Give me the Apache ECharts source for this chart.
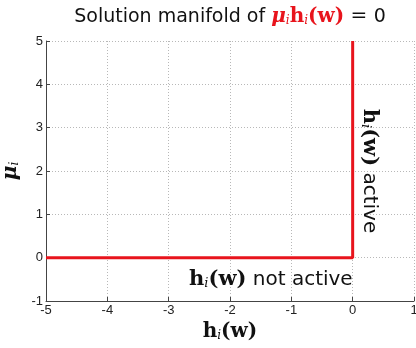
<!DOCTYPE html>
<html><head><meta charset="utf-8">
<script src="https://cdn.jsdelivr.net/npm/echarts@6/dist/echarts.min.js"></script>
<style>html,body{margin:0;padding:0;background:#fff}#c{width:416px;height:348px}</style>
</head><body><div id="c"></div>
<script>
const xTicks = [-5, -4, -3, -2, -1, 0, 1];
const yTicks = [-1, 0, 1, 2, 3, 4, 5];
const manifoldX = [-5, 0, 0];
const manifoldY = [0, 0, 5];
const activeLabelAt = [0, 2.0];
const notActiveLabelAt = [0, -0.5];

const RED = '#e8141c';
const serif = '"DejaVu Serif", "Liberation Serif", serif';
const sans = '"DejaVu Sans", sans-serif';
const mathRich = (col, size) => ({
  mu: {fontFamily: serif, fontWeight: 'bold', fontStyle: 'italic', fontSize: size, color: col, fill: col},
  b: {fontFamily: serif, fontWeight: 'bold', fontSize: size, color: col, fill: col},
  sub: {fontFamily: serif, fontStyle: 'italic', fontSize: Math.round(size*0.62), color: col, fill: col, verticalAlign: 'bottom'},
  t: {fontFamily: sans, fontSize: size-1, color: '#111', fill: '#111'},
  eq: {fontFamily: serif, fontSize: size, color: '#111', fill: '#111'}
});

const chart = echarts.init(document.getElementById('c'));
const axisCommon = {
  type: 'value', interval: 1,
  axisLine: {show: true, onZero: false, lineStyle: {color: '#444', width: 1}},
  axisTick: {show: true, inside: true, length: 4, lineStyle: {color: '#444'}},
  splitLine: {show: true, lineStyle: {color: '#b8b8b8', type: [1, 2], width: 1}},
  axisLabel: {fontFamily: '"Liberation Sans", Arial, sans-serif', fontSize: 13, color: '#222'}
};
chart.setOption({
  animation: false,
  grid: {left: 46, right: 2, top: 41, bottom: 47, containLabel: false, outerBoundsMode: 'none'},
  xAxis: Object.assign({}, axisCommon, {
    min: xTicks[0], max: xTicks[xTicks.length-1],
    axisLabel: Object.assign({}, axisCommon.axisLabel, {margin: 3}),
    name: '{b|h}{sub|i}{b|(w)}', nameLocation: 'middle', nameGap: 19,
    nameTextStyle: {rich: mathRich('#111', 20), verticalAlign: 'top'}
  }),
  yAxis: Object.assign({}, axisCommon, {
    min: yTicks[0], max: yTicks[yTicks.length-1],
    axisLabel: Object.assign({}, axisCommon.axisLabel, {margin: 3}),
    name: '{mu|μ}{sub|i}', nameLocation: 'middle', nameGap: 18, nameRotate: 90,
    nameTextStyle: {rich: mathRich('#111', 20)}
  }),
  series: [{
    type: 'line', symbol: 'none', silent: true,
    lineStyle: {color: RED, width: 3},
    data: manifoldX.map((x, i) => [x, manifoldY[i]])
  }]
});

const pActive = chart.convertToPixel({gridIndex: 0}, activeLabelAt);
const pNot = chart.convertToPixel({gridIndex: 0}, notActiveLabelAt);
const pTitle = chart.convertToPixel({gridIndex: 0}, [(xTicks[0]+xTicks[xTicks.length-1])/2, yTicks[yTicks.length-1]]);
chart.setOption({
  graphic: [
    {type: 'text', x: pTitle[0], y: 17, style: {
      text: '{t|Solution manifold of }{mu|μ}{sub|i}{b|h}{sub|i}{b|(w)}{eq| = }{t|0}',
      rich: mathRich(RED, 20), align: 'center', verticalAlign: 'middle'}},
    {type: 'text', x: pActive[0] + 17, y: pActive[1], rotation: -Math.PI/2, style: {
      text: '{b|h}{sub|i}{b|(w)}{t| active}', rich: mathRich('#111', 21), align: 'center', verticalAlign: 'middle'}},
    {type: 'text', x: pNot[0], y: pNot[1], style: {
      text: '{b|h}{sub|i}{b|(w)}{t| not active}', rich: mathRich('#111', 21), align: 'right', verticalAlign: 'middle'}}
  ]
});
</script></body></html>
